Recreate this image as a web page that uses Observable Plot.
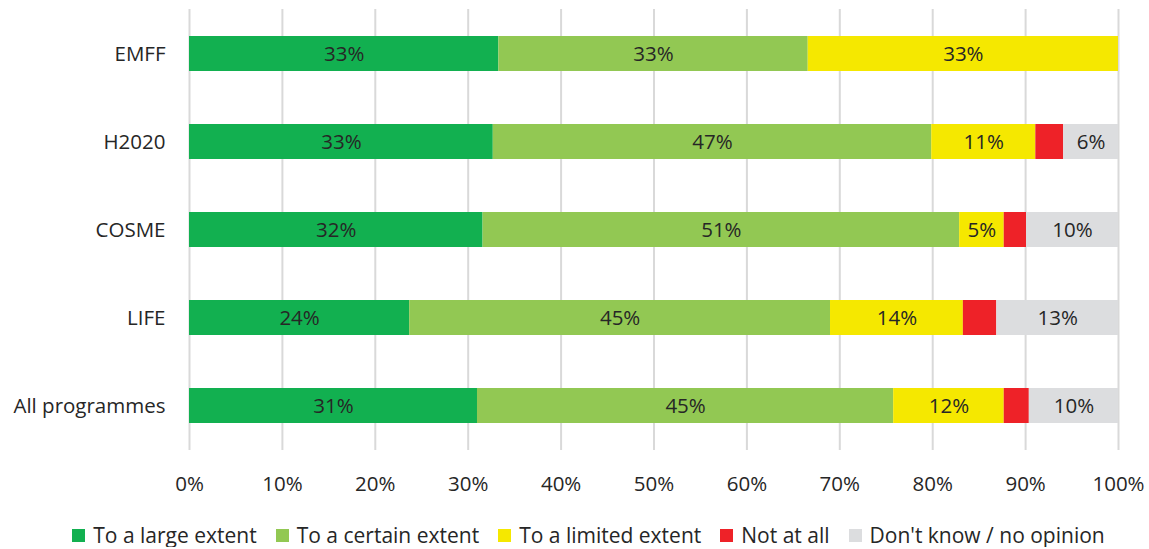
<!DOCTYPE html>
<html><head><meta charset="utf-8">
<script src="https://cdn.jsdelivr.net/npm/d3@7"></script>
<script src="https://cdn.jsdelivr.net/npm/@observablehq/plot@0.6"></script>
<style>
body{margin:0;background:#fff;font-family:"Open Sans",sans-serif;color:#262626;}
#legend{display:flex;justify-content:center;gap:19px;margin-top:18px;font-size:21px;line-height:24px;padding-left:28px}
#legend span.item{display:flex;align-items:center;gap:8px}
#legend span.sw{width:13px;height:13px;display:inline-block}
</style></head>
<body><div id="chart"></div><div id="legend"></div>
<script>
const programs = ["EMFF","H2020","COSME","LIFE","All programmes"];
const categories = ["To a large extent","To a certain extent","To a limited extent","Not at all","Don't know / no opinion"];
const colors = ["#12B050","#92C853","#F5E800","#EE2228","#DCDDDF"];
const largeExtent   = [33.3, 32.7, 31.6, 23.7, 31.0];
const certainExtent = [33.3, 47.2, 51.3, 45.3, 44.8];
const limitedExtent = [33.4, 11.2, 4.8, 14.3, 11.9];
const notAtAll      = [0, 3.0, 2.4, 3.6, 2.7];
const dontKnow      = [0, 5.9, 9.9, 13.1, 9.6];
const xTicks = [0,10,20,30,40,50,60,70,80,90,100];

const series = [largeExtent, certainExtent, limitedExtent, notAtAll, dontKnow];
const data = [];
programs.forEach((p, i) => categories.forEach((c, j) => data.push({program: p, cat: c, value: series[j][i]})));

const chart = Plot.plot({
  width: 1149, height: 505,
  marginLeft: 189, marginRight: 31, marginTop: 9, marginBottom: 55,
  style: {fontFamily: '"Open Sans", sans-serif', fontSize: "20.5px", color: "#262626", background: "#fff"},
  x: {domain: [0, 100], ticks: xTicks, tickFormat: d => d + "%", tickSize: 0, tickPadding: 26, label: null},
  y: {domain: programs, paddingInner: 0.6, paddingOuter: 0.3, tickSize: 0, tickPadding: 24, label: null},
  color: {domain: categories, range: colors},
  marks: [
    Plot.ruleX(xTicks, {stroke: "#d9d9d9", strokeWidth: 2}),
    Plot.barX(data, Plot.stackX({x: "value", y: "program", fill: "cat"})),
    Plot.text(data, Plot.stackX({x: "value", y: "program",
      text: d => (d.cat === "Not at all" || d.value === 0) ? null : Math.round(d.value) + "%",
      fill: "#262626", fontSize: 20.5}))
  ]
});
document.getElementById("chart").appendChild(chart);
const lg = document.getElementById("legend");
categories.forEach((c, j) => {
  const it = document.createElement("span"); it.className = "item";
  const sw = document.createElement("span"); sw.className = "sw"; sw.style.background = colors[j];
  it.appendChild(sw); it.appendChild(document.createTextNode(c)); lg.appendChild(it);
});
</script></body></html>
